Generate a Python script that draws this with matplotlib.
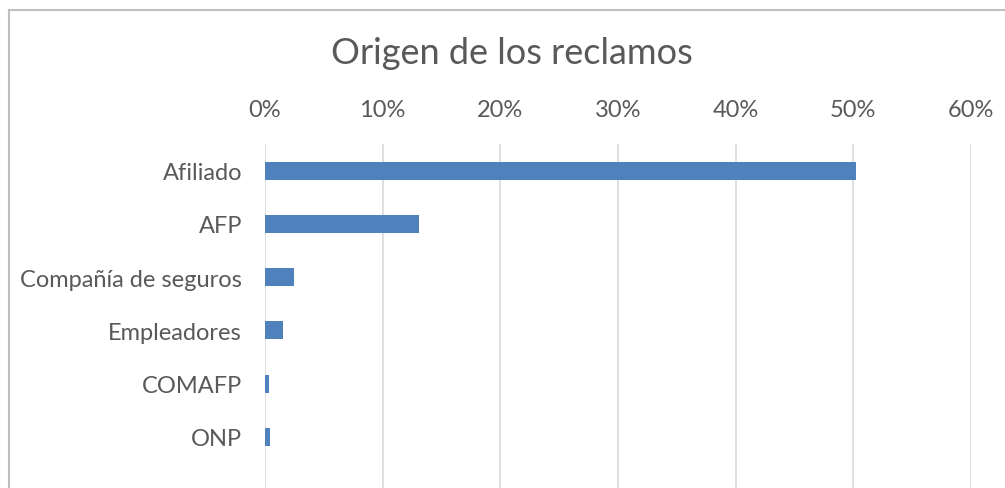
import matplotlib
matplotlib.use('Agg')
import matplotlib.pyplot as plt
from matplotlib.ticker import PercentFormatter

categories = ['Afiliado', 'AFP', 'Compañía de seguros', 'Empleadores', 'COMAFP', 'ONP']
shares = [0.502, 0.131, 0.025, 0.015, 0.003, 0.004]
x_ticks = [0, 0.1, 0.2, 0.3, 0.4, 0.5, 0.6]

plt.rcParams['font.family'] = ['Lato', 'DejaVu Sans']
text_col = '#595959'
W, H = 1005, 489

fig = plt.figure(figsize=(W / 100, H / 100), dpi=100)
ax = fig.add_axes([265 / W, 0, (971 - 265) / W, 1 - 145 / H])

ax.barh(range(len(categories)), shares, height=0.34, color='#4f81bd', zorder=3)

ax.set_xlim(0, 0.6)
ax.set_ylim(5.96, -0.5)
ax.set_xticks(x_ticks)
ax.xaxis.set_major_formatter(PercentFormatter(1.0, decimals=0))
ax.xaxis.tick_top()
ax.set_yticks(range(len(categories)))
ax.set_yticklabels(categories)
ax.tick_params(axis='x', length=0, pad=17, labelsize=17, colors=text_col)
ax.tick_params(axis='y', length=0, pad=16.5, labelsize=17, colors=text_col)
ax.grid(axis='x', color='#d9d9d9', linewidth=1.2, zorder=0)
for s in ax.spines.values():
    s.set_visible(False)

fig.text(512 / W, 1 - 53 / H, 'Origen de los reclamos', ha='center', va='center',
         fontsize=26, color=text_col)

# marco del grafico (recortado a la derecha y abajo)
fig.add_artist(plt.Line2D([9 / W, 1], [1 - 11 / H, 1 - 11 / H], color='#bfbfbf', lw=1.5))
fig.add_artist(plt.Line2D([9 / W, 9 / W], [0, 1 - 11 / H], color='#bfbfbf', lw=1.5))

fig.savefig('out.png', dpi=100)
